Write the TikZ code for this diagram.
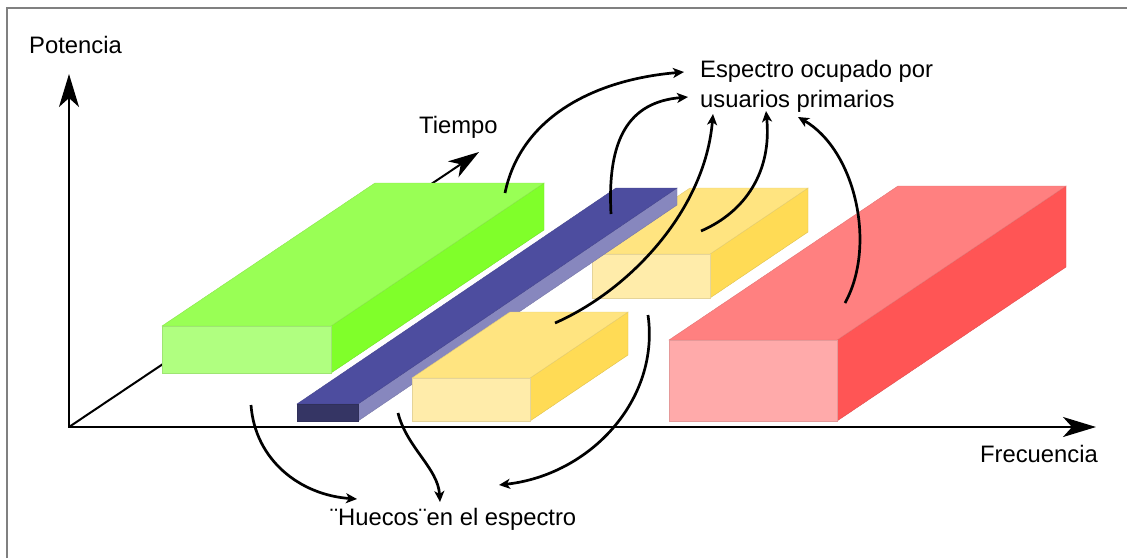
\documentclass[tikz,border=0pt]{standalone}
\usepackage{fontspec}
\setmainfont{Liberation Sans}
\usetikzlibrary{arrows.meta}
\definecolor{gfront}{RGB}{176,255,128}
\definecolor{gtop}{RGB}{153,255,85}
\definecolor{gside}{RGB}{128,255,42}
\definecolor{bfront}{RGB}{53,53,100}
\definecolor{btop}{RGB}{77,77,159}
\definecolor{bside}{RGB}{135,135,190}
\definecolor{yfront}{RGB}{255,236,170}
\definecolor{ytop}{RGB}{255,228,128}
\definecolor{yside}{RGB}{255,219,85}
\definecolor{rfront}{RGB}{255,170,170}
\definecolor{rtop}{RGB}{255,128,128}
\definecolor{rside}{RGB}{255,85,85}
\newcommand{\isobox}[7]{%
  % #1,#2 front top-left; #3 width; #4 height; #5,#6 depth vector; #7 colour prefix
  \fill[#7side, draw=#7side!88!black, line width=0.4]
    ({#1+#3},{#2}) -- ({#1+#3+#5},{#2+#6}) -- ({#1+#3+#5},{#2+#6+#4}) -- ({#1+#3},{#2+#4}) -- cycle;
  \fill[#7top, draw=#7top!90!black, line width=0.4]
    ({#1},{#2}) -- ({#1+#5},{#2+#6}) -- ({#1+#3+#5},{#2+#6}) -- ({#1+#3},{#2}) -- cycle;
  \fill[#7front, draw=#7front!90!black, line width=0.4]
    ({#1},{#2}) rectangle ({#1+#3},{#2+#4});
}
\begin{document}
\begin{tikzpicture}[x=1pt,y=-1pt,
  lbl/.style={font=\fontsize{23.8}{28}\selectfont, inner sep=0pt},
  axisline/.style={line width=2, -{Stealth[length=33,width=20,inset=9]}},
  depthline/.style={line width=2, -{Stealth[length=31,width=19,inset=9]}},
  curvearrow/.style={line width=2.7, -{Stealth[length=11,width=10,inset=3]}}]
\useasboundingbox (0,0) rectangle (1127,558);
\draw[gray, line width=1.6] (7,558) -- (7,8) -- (1127,8);

% axes
\coordinate (O) at (69,427);
\coordinate (ytip) at (69,74);
\coordinate (xtip) at (1096,427);
\coordinate (ztip) at (479,152);
\draw[depthline] (O) -- (ztip);

% boxes
\isobox{162}{326}{169}{47}{213}{-143}{g}
\isobox{592}{254}{118}{44}{98}{-66}{y}
\isobox{297}{404}{61}{17}{319}{-216}{b}
\isobox{412}{378}{118}{43}{98}{-66}{y}
\isobox{669}{340}{168}{81}{229}{-154}{r}

\draw[axisline] (O) -- (ytip);
\draw[axisline] ([xshift=-1]O) -- (xtip);

% labels
\node[lbl, anchor=base west] (pot) at (29,53) {Potencia};
\node[lbl, anchor=base west] (tie) at (419,133) {Tiempo};
\node[lbl, anchor=base west] (esp1) at (700,77) {Espectro ocupado por};
\node[lbl, anchor=base west] (esp2) at (700,107) {usuarios primarios};
\node[lbl, anchor=base east] (fre) at (1098,462) {Frecuencia};
\node[lbl, anchor=base west] (hue) at (330,525) {¨Huecos¨en el espectro};

% arrow end points
\coordinate (g1) at (505,193);
\coordinate (b1) at (611,214);
\coordinate (y1) at (555,323);
\coordinate (y2) at (701,231);
\coordinate (r1) at (845,303);
\coordinate (e1) at (684,72);
\coordinate (e2) at (688,97);
\coordinate (e3) at (713,114);
\coordinate (e4) at (766,111);
\coordinate (e5) at (798,117);
\coordinate (h1s) at (251,405);
\coordinate (h2s) at (398,413);
\coordinate (h3s) at (648,315);
\coordinate (h1) at (357,499);
\coordinate (h2) at (440,502);
\coordinate (h3) at (499,485);

\draw[curvearrow] (g1) .. controls (520,120) and (590,80) .. (e1);
\draw[curvearrow] (b1) .. controls (607,140) and (628,102) .. (e2);
\draw[curvearrow] (y1) .. controls (630,290) and (705,210) .. (e3);
\draw[curvearrow] (y2) .. controls (745,212) and (772,172) .. (e4);
\draw[curvearrow] (r1) .. controls (877,245) and (855,150) .. (e5);
\draw[curvearrow] (h1s) .. controls (255,460) and (300,495) .. (h1);
\draw[curvearrow] (h2s) .. controls (407,448) and (438,468) .. (h2);
\draw[curvearrow] (h3s) .. controls (660,400) and (590,475) .. (h3);
\end{tikzpicture}
\end{document}
